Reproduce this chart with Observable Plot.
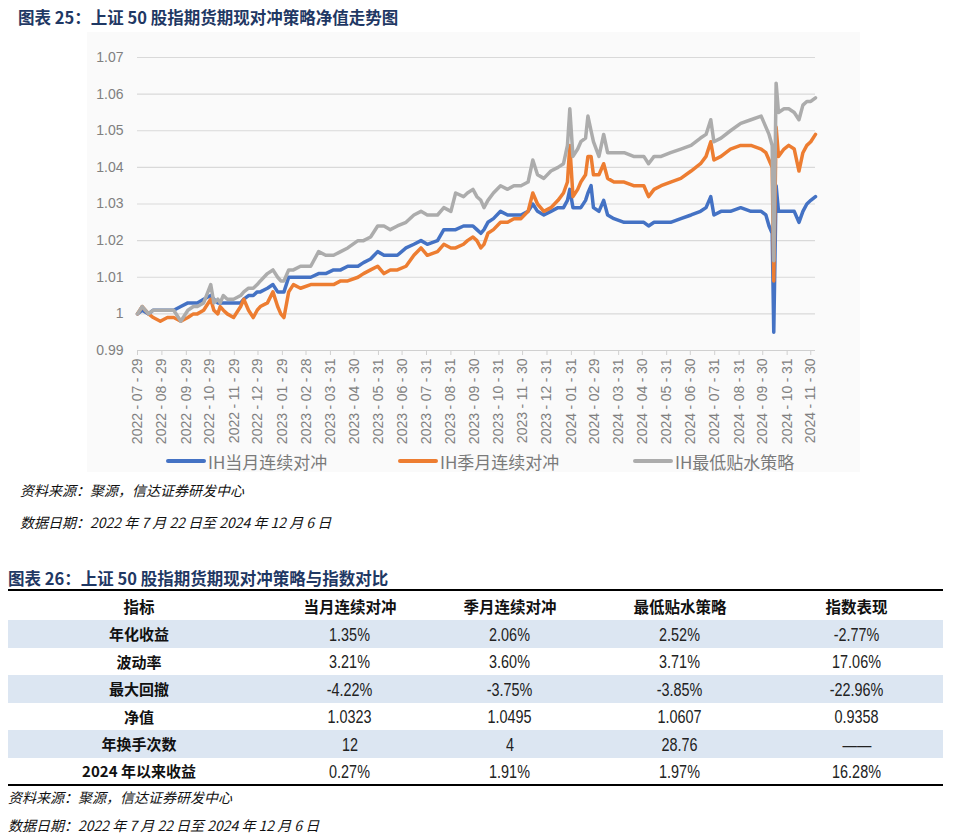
<!DOCTYPE html>
<html>
<head>
<meta charset="utf-8">
<script src="https://cdn.jsdelivr.net/npm/d3@7"></script>
<script src="https://cdn.jsdelivr.net/npm/@observablehq/plot@0.6"></script>
<style>
  html, body { margin: 0; padding: 0; background: #ffffff; }
  #page { position: relative; width: 974px; height: 835px; overflow: hidden; font-family: "Noto Sans CJK SC", "Liberation Sans", sans-serif; }
  .title { position: absolute; font-weight: bold; color: #1f3864; font-size: 16.5px; line-height: 20px; white-space: nowrap; }
  .note { position: absolute; font-style: italic; font-size: 14px; line-height: 16px; color: #111; white-space: nowrap; }
  #chartbox { position: absolute; left: 87px; top: 32px; width: 773px; height: 440px; background: #fafafa; }
  #legend { position: absolute; top: 449px; left: 0; width: 974px; height: 24px; }
  .lg { position: absolute; top: 0; display: flex; align-items: center; height: 24px; font-size: 17px; color: #7a7a7a; white-space: nowrap; }
  .lg .sw { width: 40px; height: 4px; border-radius: 2px; margin-right: 2px; }
  #tbl { position: absolute; left: 8px; top: 589px; width: 935px; border-collapse: collapse; table-layout: fixed; }
  #tbl th, #tbl td { padding: 0; text-align: center; vertical-align: middle; }
  #tbl thead tr { height: 30px; border-top: 2px solid #000; }
  #tbl thead th { font-weight: bold; font-size: 15.5px; color: #111; }
  #tbl tbody tr { height: 27.5px; }
  #tbl tbody tr:nth-child(odd) { background: #dce6f2; }
  #tbl tbody tr:last-child { border-bottom: 2px solid #000; }
  #tbl tbody td:first-child { font-weight: bold; font-size: 15px; color: #111; }
  #tbl tbody td.v span { display: inline-block; font-family: "Liberation Sans", sans-serif; font-size: 18px; color: #222; transform: scaleX(0.8); }
</style>
</head>
<body>
<div id="page">
  <div class="title" style="left:18px; top:7px;">图表 25：上证 50 股指期货期现对冲策略净值走势图</div>
  <div id="chartbox"></div>
  <div id="legend"></div>
  <div class="note" style="left:20px; top:482px;">资料来源：聚源，信达证券研发中心</div>
  <div class="note" style="left:20px; top:514px;">数据日期：2022 年 7 月 22 日至 2024 年 12 月 6 日</div>
  <div class="title" style="left:8px; top:568px;">图表 26：上证 50 股指期货期现对冲策略与指数对比</div>
  <table id="tbl"></table>
  <div class="note" style="left:8px; top:789px;">资料来源：聚源，信达证券研发中心</div>
  <div class="note" style="left:8px; top:817px;">数据日期：2022 年 7 月 22 日至 2024 年 12 月 6 日</div>
</div>
<script>
// ---------------- chart data ----------------
const dates = [
"2022-07-29","2022-08-04","2022-08-12","2022-08-18","2022-08-27","2022-09-05","2022-09-13","2022-09-22","2022-10-01","2022-10-08","2022-10-13","2022-10-21","2022-10-30","2022-11-03","2022-11-08","2022-11-11","2022-11-15","2022-11-20","2022-11-28","2022-12-07","2022-12-11","2022-12-17","2022-12-23","2022-12-28",
"2023-01-01","2023-01-10","2023-01-17","2023-01-23","2023-01-27","2023-01-31","2023-02-06","2023-02-12","2023-02-21","2023-03-06","2023-03-16","2023-03-25","2023-04-04","2023-04-13","2023-04-22","2023-05-05","2023-05-12","2023-05-21","2023-05-30","2023-06-07","2023-06-15","2023-06-24","2023-07-05","2023-07-15","2023-07-24","2023-08-01","2023-08-14","2023-08-22","2023-08-31","2023-09-06","2023-09-16","2023-09-21","2023-09-28","2023-10-03","2023-10-08","2023-10-12","2023-10-17","2023-10-24","2023-11-02","2023-11-11","2023-11-19","2023-11-28","2023-12-07","2023-12-13","2023-12-19","2023-12-27",
"2024-01-05","2024-01-14","2024-01-21","2024-01-26","2024-01-29","2024-02-02","2024-02-08","2024-02-12","2024-02-18","2024-02-21","2024-02-25","2024-02-28","2024-03-06","2024-03-12","2024-03-17","2024-03-25","2024-04-07","2024-04-19","2024-05-02","2024-05-08","2024-05-15","2024-05-24","2024-06-05","2024-06-18","2024-07-01","2024-07-13","2024-07-20","2024-07-26","2024-07-30","2024-08-08","2024-08-20","2024-09-02","2024-09-15","2024-09-28","2024-10-04","2024-10-08","2024-10-12","2024-10-14","2024-10-17","2024-10-20","2024-10-27","2024-11-02","2024-11-09","2024-11-15","2024-11-20","2024-11-25","2024-11-30","2024-12-06"
];

const ihMonth = [
1.000,1.001,1.000,1.001,1.001,1.001,1.001,1.002,1.003,1.003,1.003,1.004,1.005,1.004,1.003,1.003,1.003,1.003,1.003,1.003,1.004,1.005,1.005,1.006,
1.006,1.007,1.008,1.006,1.006,1.006,1.010,1.010,1.010,1.010,1.011,1.011,1.012,1.012,1.013,1.013,1.014,1.015,1.017,1.016,1.016,1.016,1.018,1.019,1.020,1.019,1.020,1.023,1.023,1.023,1.024,1.024,1.024,1.023,1.022,1.023,1.025,1.026,1.028,1.027,1.027,1.027,1.028,1.030,1.028,1.027,
1.028,1.029,1.029,1.031,1.034,1.029,1.029,1.029,1.031,1.033,1.035,1.029,1.028,1.031,1.027,1.026,1.025,1.025,1.025,1.024,1.025,1.025,1.025,1.026,1.027,1.028,1.029,1.032,1.027,1.028,1.028,1.029,1.028,1.028,1.027,1.024,1.022,0.995,1.035,1.028,1.028,1.028,1.028,1.025,1.028,1.030,1.031,1.032
];

const ihQuarter = [
1.000,1.002,1.000,0.999,0.998,0.999,0.999,0.998,0.999,1.000,1.000,1.001,1.004,1.001,1.000,1.002,1.001,1.000,0.999,1.002,1.004,1.001,0.999,1.001,
1.002,1.003,1.006,1.002,1.000,0.999,1.006,1.008,1.007,1.008,1.008,1.008,1.008,1.009,1.009,1.010,1.011,1.012,1.013,1.011,1.012,1.012,1.013,1.016,1.018,1.016,1.017,1.019,1.018,1.018,1.019,1.020,1.021,1.020,1.018,1.019,1.022,1.023,1.025,1.025,1.026,1.026,1.028,1.033,1.030,1.028,
1.029,1.031,1.033,1.036,1.046,1.032,1.034,1.036,1.038,1.043,1.043,1.038,1.038,1.041,1.037,1.036,1.036,1.035,1.035,1.032,1.034,1.035,1.036,1.037,1.039,1.041,1.043,1.047,1.042,1.043,1.045,1.046,1.046,1.045,1.044,1.042,1.040,1.009,1.051,1.043,1.045,1.046,1.045,1.039,1.044,1.046,1.047,1.049
];

const ihMinDiscount = [
1.000,1.002,1.000,1.001,1.001,1.001,1.001,0.998,1.001,1.002,1.002,1.003,1.008,1.003,1.004,1.003,1.005,1.004,1.004,1.005,1.006,1.007,1.007,1.008,
1.009,1.011,1.012,1.010,1.009,1.009,1.012,1.012,1.013,1.013,1.017,1.016,1.016,1.017,1.018,1.020,1.020,1.021,1.024,1.024,1.023,1.024,1.025,1.027,1.028,1.027,1.027,1.029,1.028,1.033,1.032,1.033,1.034,1.032,1.031,1.029,1.031,1.033,1.035,1.034,1.035,1.035,1.036,1.042,1.038,1.037,
1.039,1.040,1.041,1.046,1.056,1.043,1.045,1.047,1.048,1.054,1.050,1.047,1.043,1.049,1.044,1.044,1.044,1.043,1.043,1.041,1.043,1.043,1.044,1.045,1.046,1.048,1.049,1.053,1.047,1.048,1.050,1.052,1.053,1.054,1.051,1.049,1.046,1.0145,1.063,1.055,1.056,1.056,1.055,1.053,1.057,1.058,1.058,1.059
];

const seriesNames = ["IH当月连续对冲", "IH季月连续对冲", "IH最低贴水策略"];
const seriesColors = ["#4472c4", "#ed7d31", "#acacac"];
const yTicks = [0.99, 1.00, 1.01, 1.02, 1.03, 1.04, 1.05, 1.06, 1.07];
const xTickLabels = [
"2022-07-29","2022-08-29","2022-09-29","2022-10-29","2022-11-29","2022-12-29","2023-01-29","2023-02-28","2023-03-31","2023-04-30","2023-05-31","2023-06-30","2023-07-31","2023-08-31","2023-09-30","2023-10-31","2023-11-30","2023-12-31","2024-01-31","2024-02-29","2024-03-31","2024-04-30","2024-05-31","2024-06-30","2024-07-31","2024-08-31","2024-09-30","2024-10-31","2024-11-30"
];

// ---------------- table data ----------------
const tableHeader = ["指标", "当月连续对冲", "季月连续对冲", "最低贴水策略", "指数表现"];
const tableRowLabels = ["年化收益", "波动率", "最大回撤", "净值", "年换手次数", "2024 年以来收益"];
const colMonth = ["1.35%", "3.21%", "-4.22%", "1.0323", "12", "0.27%"];
const colQuarter = ["2.06%", "3.60%", "-3.75%", "1.0495", "4", "1.91%"];
const colMinDiscount = ["2.52%", "3.71%", "-3.85%", "1.0607", "28.76", "1.97%"];
const colIndex = ["-2.77%", "17.06%", "-22.96%", "0.9358", "——", "16.28%"];

// ---------------- build chart ----------------
const parse = d3.utcParse("%Y-%m-%d");
const allSeries = [ihMonth, ihQuarter, ihMinDiscount];
const rows = [];
allSeries.forEach((vals, si) => {
  vals.forEach((v, i) => rows.push({ date: parse(dates[i]), value: v, series: seriesNames[si] }));
});
const xTicks = xTickLabels.map(parse);
const fmtDate = d3.utcFormat("%Y-%m-%d");

const chart = Plot.plot({
  width: 773,
  height: 420,
  marginLeft: 50,
  marginRight: 45,
  marginTop: 25,
  marginBottom: 102,
  style: { background: "transparent", fontFamily: "'Liberation Sans', 'Noto Sans CJK SC', sans-serif", fontSize: "14px", color: "#808080" },
  x: { type: "utc", domain: [parse(dates[0]), parse(dates[dates.length - 1])], axis: null, label: null },
  y: { domain: [0.99, 1.07], axis: null, label: null },
  color: { domain: seriesNames, range: seriesColors },
  marks: [
    Plot.ruleY(yTicks.slice(1), { stroke: "#d9d9d9", strokeWidth: 1.2 }),
    Plot.ruleY([0.99], { stroke: "#d0d0d0", strokeWidth: 1.2 }),
    Plot.axisY({ ticks: yTicks, tickSize: 0, tickPadding: 14, label: null, tickFormat: d => String(+d.toFixed(2)), fill: "#808080", fontSize: 14 }),
    Plot.axisX({ ticks: xTicks, tickSize: 5, tickPadding: 3, tickRotate: -90, label: null, tickFormat: fmtDate, stroke: "#d0d0d0", fill: "#808080", fontSize: 14 }),
    Plot.line(rows, { x: "date", y: "value", z: "series", stroke: "series", strokeWidth: 3.5, strokeLinejoin: "round", strokeLinecap: "round" })
  ]
});
document.getElementById("chartbox").appendChild(chart);

// widen the spacing around the hyphens of the date labels, as in the reference
const SVGNS = "http://www.w3.org/2000/svg";
chart.querySelectorAll('g[aria-label="x-axis tick label"] text').forEach(t => {
  const s = t.textContent;
  const parts = s.split("-");
  while (t.firstChild) t.removeChild(t.firstChild);
  parts.forEach((p, i) => {
    if (i > 0) {
      const h = document.createElementNS(SVGNS, "tspan");
      h.setAttribute("dx", "3.5");
      h.textContent = "-";
      t.appendChild(h);
    }
    const ts = document.createElementNS(SVGNS, "tspan");
    if (i > 0) ts.setAttribute("dx", "3.5");
    ts.textContent = p;
    t.appendChild(ts);
  });
});

// legend
const legendX = [166, 398, 633];
const legend = document.getElementById("legend");
seriesNames.forEach((name, i) => {
  const item = document.createElement("div");
  item.className = "lg";
  item.style.left = legendX[i] + "px";
  const sw = document.createElement("span");
  sw.className = "sw";
  sw.style.background = seriesColors[i];
  const tx = document.createElement("span");
  tx.textContent = name;
  item.appendChild(sw);
  item.appendChild(tx);
  legend.appendChild(item);
});

// ---------------- build table ----------------
const tbl = document.getElementById("tbl");
const colWidths = [262, 160, 160, 180, 173];
const colgroup = document.createElement("colgroup");
colWidths.forEach(w => { const c = document.createElement("col"); c.style.width = w + "px"; colgroup.appendChild(c); });
tbl.appendChild(colgroup);
const thead = document.createElement("thead");
const htr = document.createElement("tr");
tableHeader.forEach(h => { const th = document.createElement("th"); th.textContent = h; htr.appendChild(th); });
thead.appendChild(htr);
tbl.appendChild(thead);
const tbody = document.createElement("tbody");
tableRowLabels.forEach((lab, i) => {
  const tr = document.createElement("tr");
  const cells = [lab, colMonth[i], colQuarter[i], colMinDiscount[i], colIndex[i]];
  cells.forEach((c, j) => {
    const td = document.createElement("td");
    if (j > 0) {
      td.className = "v";
      const sp = document.createElement("span");
      sp.textContent = c;
      td.appendChild(sp);
    } else {
      td.textContent = c;
    }
    tr.appendChild(td);
  });
  tbody.appendChild(tr);
});
tbl.appendChild(tbody);
</script>
</body>
</html>
